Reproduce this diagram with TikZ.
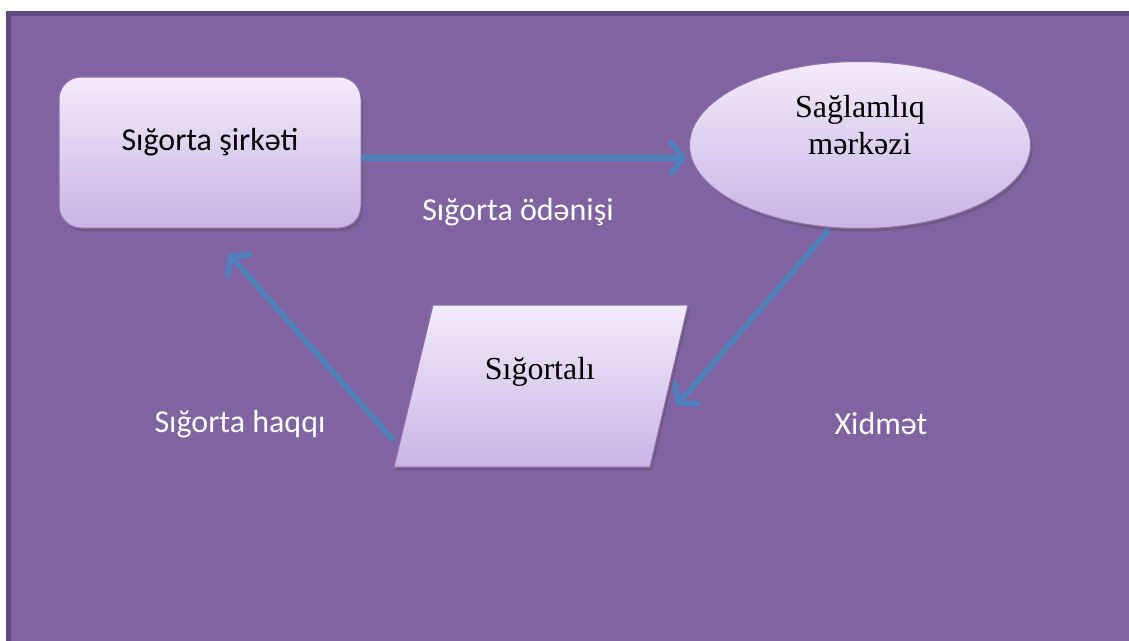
\documentclass[tikz,border=0pt]{standalone}
\usepackage{fontspec}
\setmainfont{Liberation Serif}
\newfontfamily\carlitofont{Carlito}
\usetikzlibrary{shapes.geometric,arrows.meta,shadows}
\definecolor{bgpurple}{RGB}{128,100,162}
\definecolor{framedark}{RGB}{94,72,124}
\definecolor{shtop}{RGB}{241,236,249}
\definecolor{shbot}{RGB}{199,181,228}
\definecolor{shedge}{RGB}{140,112,175}
\definecolor{arrowblue}{RGB}{79,129,189}
\tikzset{
  boxshape/.style={draw=shedge, line width=1pt, top color=shtop, bottom color=shbot,
    drop shadow={shadow xshift=2pt, shadow yshift=-3pt, opacity=0.35, fill=black!70}},
  flowarrow/.style={draw=arrowblue, line width=5.5pt,
    -{Straight Barb[length=12pt, width=30pt, round]}},
  sanslabel/.style={font=\carlitofont\fontsize{32}{37}\selectfont, text=white},
  sanstext/.style={font=\carlitofont\fontsize{32}{37}\selectfont, text=black},
  seriftext/.style={font=\fontsize{32}{37}\selectfont, text=black, align=center},
}
\begin{document}
\begin{tikzpicture}[x=1pt,y=-1pt]
\useasboundingbox (0,0) rectangle (1129,640);
\fill[white] (0,0) rectangle (1129,640);
\fill[bgpurple] (6,11) rectangle (1140,650);
\draw[framedark, line width=5pt] (8.5,650) -- (8.5,13.5) -- (1140,13.5);

% Sigorta sirketi
\node[boxshape, rounded corners=22pt, minimum width=302pt, minimum height=151pt, inner sep=0pt] (sirket) at (210,152.5) {};
\node[sanstext] (sirkettext) at (210,142) {Sığorta şirkəti};

% Saglamliq merkezi
\node[boxshape, ellipse, minimum width=341pt, minimum height=167pt, inner sep=0pt] (merkez) at (860,145) {};
\node[seriftext] (merkeztext) at (860,125) {Sağlamlıq\\mərkəzi};

% Sigortali (parallelogram)
\coordinate (p1) at (433,305);
\coordinate (p2) at (688,305);
\coordinate (p3) at (650,467);
\coordinate (p4) at (394,467);
\path[boxshape] (p1) -- (p2) -- (p3) -- (p4) -- cycle;
\node[seriftext] (sigortali) at (540,372) {Sığortalı};

% arrows
\coordinate (a1s) at (361,158);
\coordinate (a1e) at (686,158);
\coordinate (a2s) at (829,230);
\coordinate (a2e) at (677,405);
\coordinate (a3s) at (393,440);
\coordinate (a3e) at (229,254);
\draw[flowarrow] (a1s) -- (a1e);
\draw[flowarrow] (a2s) -- (a2e);
\draw[flowarrow] (a3s) -- (a3e);

% labels
\node[sanslabel] (odenis) at (518,212) {Sığorta ödənişi};
\node[sanslabel] (haqq) at (240,424) {Sığorta haqqı};
\node[sanslabel] (xidmet) at (881,424) {Xidmət};
\end{tikzpicture}
\end{document}
